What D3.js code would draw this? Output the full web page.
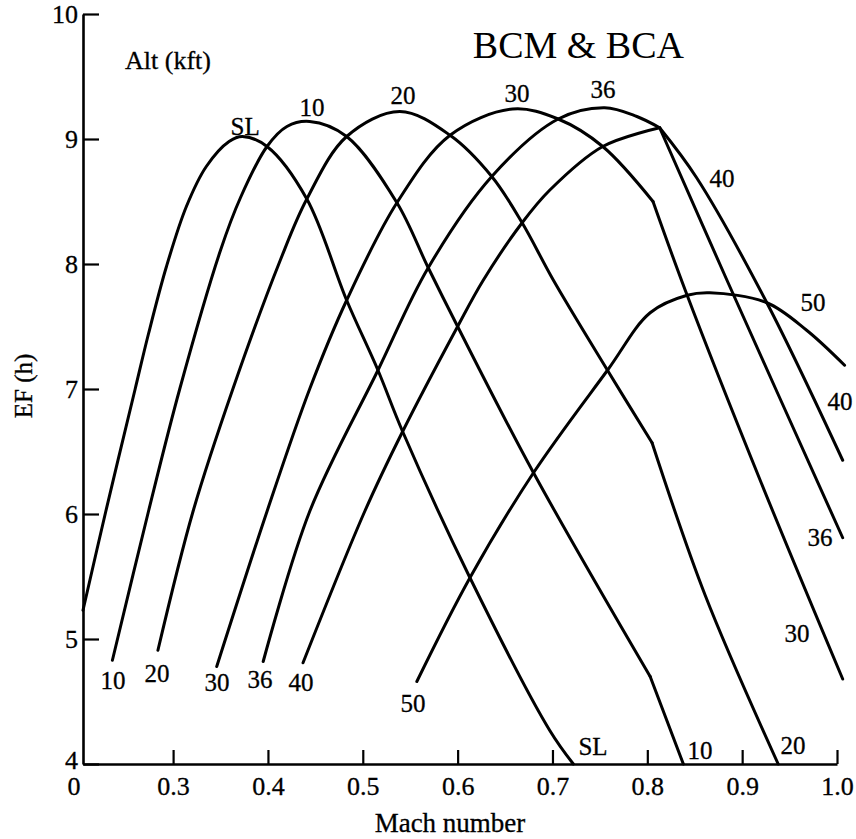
<!DOCTYPE html>
<html>
<head>
<meta charset="utf-8">
<script src="https://cdn.jsdelivr.net/npm/d3@7"></script>
<style>
  body { margin: 0; background: #fff; }
  text { font-family: "Liberation Serif", "Times New Roman", serif; fill: #000; stroke: #000; stroke-width: 0.3px; }
</style>
</head>
<body>
<svg id="chart" width="856" height="839"></svg>
<script>
// Endurance factor EF (h) against Mach number, one curve per altitude (kft)
const altitudes = ["SL", "10", "20", "30", "36", "40", "50"];

const machSL = [0.205, 0.229, 0.260, 0.274, 0.293, 0.314, 0.335, 0.359, 0.373, 0.399, 0.441, 0.483, 0.516, 0.542, 0.613, 0.697, 0.722];
const efSL   = [5.23, 6.02, 7.00, 7.44, 7.98, 8.46, 8.78, 8.98, 9.02, 8.94, 8.52, 7.71, 7.15, 6.66, 5.49, 4.27, 4.00];

const mach10 = [0.236, 0.274, 0.307, 0.350, 0.371, 0.399, 0.420, 0.444, 0.483, 0.536, 0.569, 0.600, 0.680, 0.803, 0.838];
const ef10   = [4.83, 6.02, 7.00, 8.11, 8.53, 8.94, 9.10, 9.14, 9.02, 8.49, 7.97, 7.50, 6.33, 4.70, 4.00];

const mach20 = [0.284, 0.321, 0.363, 0.413, 0.441, 0.483, 0.539, 0.592, 0.636, 0.668, 0.701, 0.758, 0.805, 0.861, 0.938];
const ef20   = [4.91, 6.02, 7.00, 8.03, 8.52, 9.02, 9.22, 9.03, 8.70, 8.33, 7.87, 7.15, 6.57, 5.35, 4.00];

const mach30 = [0.346, 0.399, 0.444, 0.483, 0.536, 0.592, 0.658, 0.706, 0.753, 0.806, 0.840, 0.919, 1.006];
const ef30   = [4.78, 6.02, 7.00, 7.71, 8.49, 9.03, 9.24, 9.16, 8.94, 8.50, 7.79, 6.27, 4.68];

const mach36 = [0.395, 0.444, 0.516, 0.569, 0.636, 0.706, 0.755, 0.789, 0.813, 0.884, 1.006];
const ef36   = [4.82, 6.02, 7.15, 7.97, 8.70, 9.16, 9.25, 9.18, 9.09, 7.87, 5.81];

const mach40 = [0.437, 0.502, 0.542, 0.600, 0.627, 0.668, 0.697, 0.753, 0.813, 0.852, 0.926, 1.006];
const ef40   = [4.81, 6.02, 6.66, 7.50, 7.87, 8.33, 8.59, 8.94, 9.09, 8.69, 7.69, 6.43];

const mach50 = [0.557, 0.613, 0.680, 0.758, 0.803, 0.842, 0.866, 0.926, 0.968, 1.008];
const ef50   = [4.66, 5.49, 6.33, 7.15, 7.61, 7.75, 7.77, 7.69, 7.47, 7.19];

// Mach at which each curve changes slope abruptly (drag rise); null = smooth
const breakMach = [null, 0.803, 0.805, 0.806, 0.813, 0.813, null];

// Axis ticks
const machTicks = [0.3, 0.4, 0.5, 0.6, 0.7, 0.8, 0.9, 1.0];
const machTickLabels = ["0.3", "0.4", "0.5", "0.6", "0.7", "0.8", "0.9", "1.0"];
const originLabel = "0";
const efTicks = [4, 5, 6, 7, 8, 9, 10];
const efTickLabels = ["4", "5", "6", "7", "8", "9", "10"];

// Curve labels placed at (Mach, EF)
const labelText = ["SL", "10", "20", "30", "36", "40", "50", "40", "36", "30",
                   "10", "20", "30", "36", "40", "50", "SL", "10", "20"];
const labelMach = [0.376, 0.4465, 0.5425, 0.6626, 0.7533, 0.8787, 0.9747, 1.0031, 0.982, 0.9578,
                   0.2367, 0.2831, 0.3464, 0.3917, 0.4349, 0.553, 0.7428, 0.8556, 0.9536];
const labelEF   = [9.104, 9.256, 9.352, 9.368, 9.40, 8.688, 7.696, 6.904, 5.816, 5.048,
                   4.672, 4.728, 4.656, 4.68, 4.656, 4.488, 4.144, 4.112, 4.152];

const seriesMach = [machSL, mach10, mach20, mach30, mach36, mach40, mach50];
const seriesEF   = [efSL, ef10, ef20, ef30, ef36, ef40, ef50];

const svg = d3.select("#chart");

const x = d3.scaleLinear().domain([0.205, 1.0]).range([83, 837]);
const y = d3.scaleLinear().domain([4, 10]).range([764, 14]);

// Axes
const xAxis = d3.axisBottom(x)
  .tickValues(machTicks)
  .tickFormat((d, i) => machTickLabels[i])
  .tickSizeInner(-14)
  .tickSizeOuter(0)
  .tickPadding(13);

const yAxis = d3.axisLeft(y)
  .tickValues(efTicks)
  .tickFormat((d, i) => efTickLabels[i])
  .tickSizeInner(-16)
  .tickSizeOuter(0)
  .tickPadding(5);

const gx = svg.append("g").attr("transform", `translate(0,${y(4)})`).call(xAxis);
const gy = svg.append("g").attr("transform", `translate(${x(0.205)},0)`).call(yAxis);

[gx, gy].forEach(g => {
  g.select(".domain").attr("stroke", "#000").attr("stroke-width", 2.6);
  g.selectAll(".tick line").attr("stroke", "#000").attr("stroke-width", 2.2);
  g.selectAll(".tick text").attr("fill", "#000").style("font-size", "26px")
    .style("font-family", '"Liberation Serif", "Times New Roman", serif');
});
// the lowest EF label sits just above the origin label
gy.selectAll(".tick text").filter(d => d === 4).attr("dy", "0.18em");

// Origin label of the broken Mach axis
svg.append("text")
  .attr("x", x(0.205) - 9)
  .attr("y", y(4) + 13)
  .attr("dy", "0.71em")
  .attr("text-anchor", "middle")
  .style("font-size", "26px")
  .text(originLabel);

// Curves
const line = d3.line()
  .x(d => x(d[0]))
  .y(d => y(d[1]))
  .curve(d3.curveCatmullRom.alpha(0.5));

altitudes.forEach((alt, i) => {
  const pts = seriesMach[i].map((m, j) => [m, seriesEF[i][j]]);
  const pieces = [];
  if (breakMach[i] === null) {
    pieces.push(pts);
  } else {
    const k = pts.findIndex(p => p[0] === breakMach[i]);
    pieces.push(pts.slice(0, k + 1));
    pieces.push(pts.slice(k));
  }
  pieces.forEach(p => {
    svg.append("path")
      .datum(p)
      .attr("class", "curve alt-" + alt)
      .attr("fill", "none")
      .attr("stroke", "#000")
      .attr("stroke-width", 3)
      .attr("stroke-linejoin", "round")
      .attr("stroke-linecap", "round")
      .attr("d", line);
  });
});

// Curve labels
svg.append("g").selectAll("text")
  .data(labelText)
  .join("text")
  .attr("x", (d, i) => x(labelMach[i]))
  .attr("y", (d, i) => y(labelEF[i]))
  .attr("text-anchor", "middle")
  .attr("dominant-baseline", "central")
  .style("font-size", "25px")
  .text(d => d);

// Titles
svg.append("text")
  .attr("x", 684).attr("y", 58)
  .attr("text-anchor", "end")
  .style("font-size", "38px")
  .style("stroke-width", "0px")
  .text("BCM & BCA");

svg.append("text")
  .attr("x", 125).attr("y", 69)
  .style("font-size", "26px")
  .text("Alt (kft)");

svg.append("text")
  .attr("transform", "translate(32,386) rotate(-90)")
  .attr("text-anchor", "middle")
  .style("font-size", "25px")
  .text("EF (h)");

svg.append("text")
  .attr("x", 450).attr("y", 832)
  .attr("text-anchor", "middle")
  .style("font-size", "27px")
  .text("Mach number");
</script>
</body>
</html>
